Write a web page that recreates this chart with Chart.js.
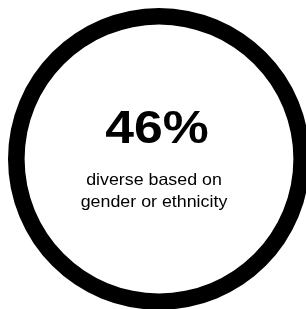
<!DOCTYPE html>
<html>
<head>
<meta charset="utf-8">
<script src="https://cdn.jsdelivr.net/npm/chart.js@4/dist/chart.umd.min.js"></script>
<style>
  html, body { margin: 0; padding: 0; background: #fff; overflow: hidden; width: 306px; height: 309px; }
  #c { position: absolute; left: 7.5px; top: 7.5px; width: 302px; height: 302px; }
  .t { position: absolute; left: 0; width: 310px; text-align: center; font-family: "Liberation Sans", Arial, sans-serif; color: #000; white-space: nowrap; transform-origin: 50% 50%; }
  #big { top: 103px; font-size: 47px; line-height: 48px; font-weight: bold; left: 1.5px; transform: scaleX(1.1); }
  #sub { top: 169px; font-size: 16.5px; line-height: 21.5px; left: -1.5px; transform: scaleX(1.08); }
</style>
</head>
<body>
<canvas id="c" width="302" height="302"></canvas>
<div class="t" id="big"></div>
<div class="t" id="sub"></div>
<script>
const categories = ["Diverse based on gender or ethnicity"];
const values = [100];
const headline = "46%";
const subtitleLines = ["diverse based on", "gender or ethnicity"];

document.getElementById('big').textContent = headline;
document.getElementById('sub').innerHTML = subtitleLines.map(s => s.replace(/&/g,'&amp;').replace(/</g,'&lt;')).join('<br>');

new Chart(document.getElementById('c'), {
  type: 'doughnut',
  data: {
    labels: categories,
    datasets: [{ data: values, backgroundColor: ['#000000'], borderWidth: 0, hoverOffset: 0, offset: 0 }]
  },
  options: {
    responsive: false,
    maintainAspectRatio: false,
    animation: false,
    cutout: '89%',
    layout: { padding: 0 },
    plugins: { legend: { display: false }, tooltip: { enabled: false } }
  }
});
</script>
</body>
</html>
